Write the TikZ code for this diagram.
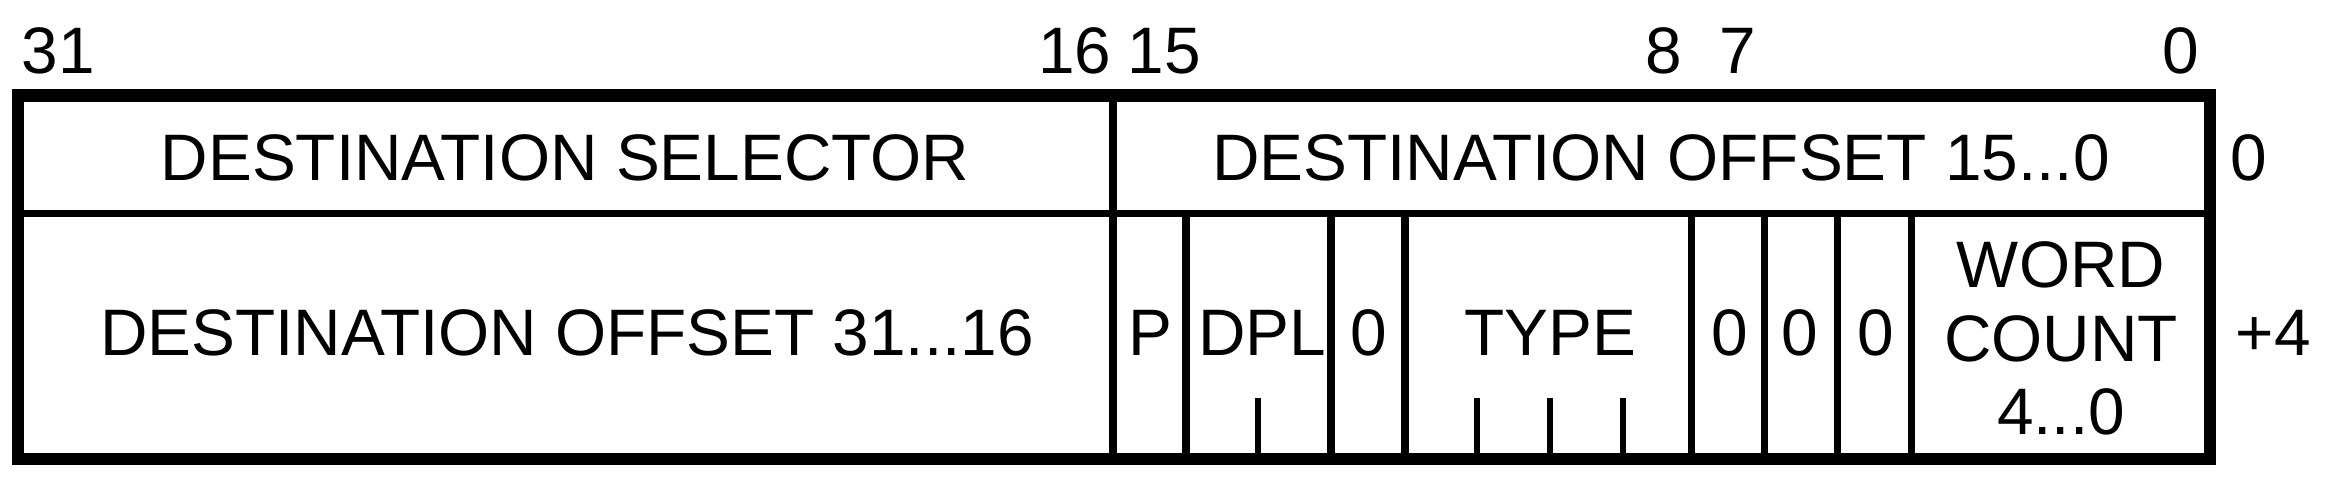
\documentclass[tikz,border=0pt]{standalone}
\usepackage{fontspec}
\setmainfont{Liberation Sans}
\usetikzlibrary{calc,positioning}

\begin{document}
\begin{tikzpicture}[x=0.1mm,y=-0.1mm,
  txt/.style={inner sep=0pt,font=\fontsize{18.7}{20.9}\selectfont},
  frame/.style={line width=3.5pt,line join=miter},
  rule/.style={line width=2pt},
  tick/.style={line width=1.7pt}]
\useasboundingbox (0,0) rectangle (2338,490);
% outline and rows
\coordinate (tl) at (18,95.5); \coordinate (br) at (2210,459);
\coordinate (ml) at (18,213.5); \coordinate (mr) at (2210,213.5);
\draw [rule] (ml) -- (mr);
\draw [rule] (1113,95.5) -- (1113,459);
\foreach \xx in {1186,1331,1405,1691,1764,1837,1911}
  \draw [rule] (\xx,213.5) -- (\xx,459);
% field ticks
\foreach \xx in {1258,1477,1550,1623}
  \draw [tick] (\xx,398) -- (\xx,459);
\draw [frame] (tl) rectangle (br);
% bit numbers
\node [txt,anchor=base west] (b31) at (21,73) {31};
\node [txt,anchor=base east] (b16) at (1112,73) {16};
\node [txt,anchor=base west] (b15) at (1127,73) {15};
\node [txt,anchor=base] (b8) at (1664,73) {8};
\node [txt,anchor=base] (b7) at (1738,73) {7};
\node [txt,anchor=base] (b0) at (2181,73) {0};
% first word
\node [txt,anchor=base] (sel) at (565,180) {DESTINATION SELECTOR};
\node [txt,anchor=base] (offlo) at (1661,180) {DESTINATION OFFSET 15...0};
% second word
\node [txt,anchor=base] (offhi) at (567,355) {DESTINATION OFFSET 31...16};
\node [txt,anchor=base] (p) at (1150,355) {P};
\node [txt,anchor=base] (dpl) at (1262,355) {DPL};
\node [txt,anchor=base] (z12) at (1369,355) {0};
\node [txt,anchor=base] (type) at (1550,355) {TYPE};
\node [txt,anchor=base] (z7) at (1730,355) {0};
\node [txt,anchor=base] (z6) at (1800,355) {0};
\node [txt,anchor=base] (z5) at (1876,355) {0};
\node [txt,align=center] (wc) at (2061,338.5) {WORD\\COUNT\\4...0};
% byte offsets
\node [txt,anchor=base west] (o0) at (2230,180) {0};
\node [txt,anchor=base west] (o4) at (2235,355) {+4};
\end{tikzpicture}
\end{document}
